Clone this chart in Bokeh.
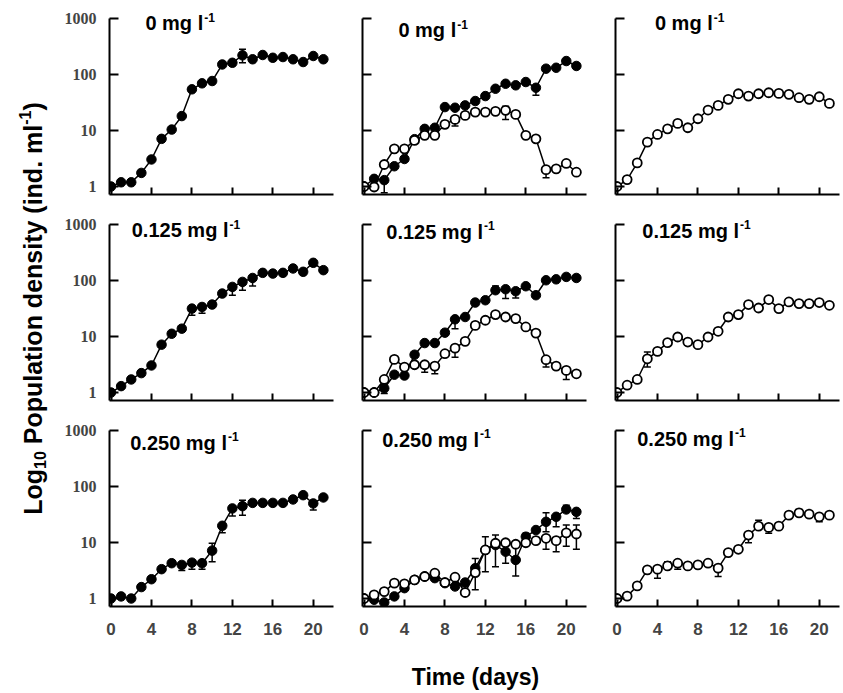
import math
from bokeh.plotting import figure
from bokeh.layouts import row, column
from bokeh.models import (ColumnDataSource, Whisker, TeeHead, FixedTicker,
                          NumeralTickFormatter, CustomJSTickFormatter, Range1d)
from bokeh.core.properties import value
from bokeh.embed import file_html
from bokeh.resources import INLINE

# ---------------- data ----------------
days = list(range(22))
concentrations = ["0", "0.125", "0.250"]
x_ticks = [0, 4, 8, 12, 16, 20]
y_ticks = [1, 10, 100, 1000]

# column 1: filled circles only
a_0 = [1.0, 1.19, 1.19, 1.75, 3.04, 7.1, 10.4, 18.1, 54.4, 69.6, 76.5, 151, 162, 220, 187, 223, 199, 205, 187, 167, 214, 187]
a_125 = [1.0, 1.30, 1.71, 2.22, 3.04, 7.15, 11.2, 13.8, 31.5, 33.7, 37.2, 58.5, 76.9, 94.4, 111, 137, 133, 137, 164, 143, 207, 153]
a_250 = [1.0, 1.09, 1.0, 1.6, 2.21, 3.34, 4.27, 3.98, 4.37, 4.27, 7.15, 19.9, 40.6, 44.6, 51, 51, 51, 51, 58.7, 70, 49.8, 63.7]

# column 2: filled and open circles
bf_0 = [1.0, 1.37, 1.3, 2.3, 3.1, 7.0, 10.7, 11.2, 26.2, 25.5, 28.1, 33.6, 41.2, 55.7, 68.4, 64.1, 73.4, 58, 127, 132, 174, 142]
bo_0 = [1.0, 0.98, 2.47, 4.7, 4.7, 6.65, 8.2, 8.2, 12.9, 15.8, 18.6, 21.3, 21.3, 22, 22.9, 19.4, 8.2, 7.1, 2.0, 2.07, 2.58, 1.8]
bf_125 = [1.0, 1.0, 1.19, 2.08, 2.01, 4.73, 7.64, 7.64, 11.7, 20.3, 22.3, 40.4, 44.4, 67, 69.8, 64.3, 79, 54.6, 101, 105, 116, 111]
bo_125 = [1.0, 1.0, 1.71, 3.9, 2.84, 3.13, 3.13, 2.96, 4.93, 6.2, 8.2, 15.8, 19.5, 24.6, 22.3, 20.9, 14.8, 11.5, 3.85, 2.96, 2.48, 2.16]
bf_250 = [1.0, 0.95, 0.85, 1.09, 1.53, 2.15, 2.47, 2.31, 1.88, 1.64, 1.93, 3.48, 7.36, 9.0, 6.86, 4.88, 12.7, 16.7, 23.4, 28.8, 38.9, 35.3]
bo_250 = [1.0, 1.16, 1.33, 1.88, 1.83, 2.15, 2.47, 2.83, 1.93, 2.4, 1.28, 2.9, 7.36, 9.7, 9.9, 9.3, 9.9, 10.8, 11.9, 10.8, 14.9, 14.2]

# column 3: open circles only
c_0 = [1.0, 1.33, 2.64, 6.2, 8.5, 10.7, 13.4, 11.2, 16.2, 23.2, 28.1, 36, 45.3, 41.2, 45.3, 47.2, 46, 44.2, 38.5, 36, 40.1, 30.5]
c_125 = [1.0, 1.35, 1.71, 4.0, 5.42, 7.76, 9.8, 7.96, 7.15, 9.8, 12.4, 22.3, 24.6, 37.2, 32.3, 45.7, 31.5, 41.4, 38.7, 38.7, 40.4, 36.1]
c_250 = [1.0, 1.1, 1.68, 3.24, 3.34, 3.82, 4.27, 3.82, 3.98, 4.27, 3.48, 6.6, 7.57, 13.6, 19.6, 18.6, 19.6, 30.8, 33.9, 32.1, 28.8, 30.8]

# error bars: (day, lower, upper)
a_0_err = [(13, 162, 282)]
a_125_err = [(8, 24, 31.5), (9, 26, 33.7), (12, 54.5, 76.9), (13, 67, 94.4), (14, 80, 111)]
a_250_err = [(7, 3.15, 3.98), (8, 3.34, 4.37), (9, 3.34, 4.27), (10, 4.55, 9.7), (11, 14.9, 19.9),
             (12, 29.6, 40.6), (13, 30.8, 57), (20, 38, 49.8)]
bf_0_err = [(2, 0.77, 1.3), (17, 42.8, 58)]
bo_0_err = [(9, 12, 15.8), (14, 15.8, 27.2), (18, 1.43, 2.0)]
bf_125_err = [(2, 0.96, 1.19), (9, 13.8, 20.3), (13, 67, 80), (14, 47.5, 69.8), (15, 48.7, 64.3)]
bo_125_err = [(6, 2.31, 3.13), (7, 2.16, 2.96), (9, 4.28, 6.2), (18, 2.84, 3.85), (20, 1.71, 2.48)]
bf_250_err = [(11, 3.48, 5.2), (14, 4.27, 6.86), (15, 2.53, 10.3), (18, 15.6, 33.9), (19, 19.1, 28.8),
              (20, 38.9, 46.5), (21, 26.8, 35.3)]
bo_250_err = [(11, 1.43, 2.9), (12, 3.0, 12.7), (13, 3.7, 13.6), (16, 9.9, 14.6), (18, 7.57, 11.9),
              (19, 6.86, 10.8), (20, 8.6, 20.5), (21, 7.57, 20.5)]
c_0_err = []
c_125_err = [(3, 2.84, 5.27)]
c_250_err = [(4, 2.31, 3.34), (5, 3.82, 4.55), (6, 3.34, 4.27), (10, 2.47, 3.48), (13, 9.9, 13.6),
             (14, 19.6, 25), (15, 14.6, 18.6), (18, 33.9, 39), (20, 23.4, 28.8)]

panels = [
    [[(a_0, a_0_err, True)], [(bf_0, bf_0_err, True), (bo_0, bo_0_err, False)], [(c_0, c_0_err, False)]],
    [[(a_125, a_125_err, True)], [(bf_125, bf_125_err, True), (bo_125, bo_125_err, False)], [(c_125, c_125_err, False)]],
    [[(a_250, a_250_err, True)], [(bf_250, bf_250_err, True), (bo_250, bo_250_err, False)], [(c_250, c_250_err, False)]],
]

# ---------------- layout / style ----------------
SANS = "Liberation Sans"
SERIF = "Liberation Serif"
PX_DEC = 56.0          # pixels per decade
EXT = 12               # frame extension above the 1000 tick (room for the panel titles)
Y_LO, Y_AX_TOP = 0.72, 1000
Y_HI = 10 ** (3 + EXT / PX_DEC)
FH = int(round(math.log10(Y_HI / Y_LO) * PX_DEC))
FW = [224, 224, 224]
XR = [(-0.15, 22.0), (-0.15, 22.0), (-0.15, 22.0)]
BL = [57, 15, 15]
BR = [14, 14, 4]
BT = [6, 10, 10]
BB = [8, 8, 36]
TITLE_X = [[3.4, 3.4, 3.75], [2.05, 2.2, 2.5], [1.9, 1.8, 2.0]]
TITLE_Y = [[815, 618, 815], [791, 741, 772], [603, 690, 719]]

AB = {'0': 556, '1': 556, '2': 556, '5': 556, '.': 278, ' ': 278, 'm': 889, 'g': 611, 'l': 278,
      'L': 611, 'o': 611, 'P': 667, 'p': 611, 'u': 611, 'a': 556, 't': 333, 'i': 278, 'n': 611,
      'd': 611, 'e': 556, 's': 556, 'y': 556, '(': 333, ')': 333, '-': 333}


def tw(s, size):
    return sum(AB.get(ch, 556) for ch in s) / 1000.0 * size


def make_panel(r, c):
    p = figure(width=BL[c] + FW[c] + BR[c], height=BT[r] + FH + BB[r],
               x_range=Range1d(*XR[c]), y_range=Range1d(Y_LO, Y_HI),
               y_axis_type="log", output_backend="svg", toolbar_location=None,
               min_border_left=BL[c], min_border_right=BR[c],
               min_border_top=BT[r], min_border_bottom=BB[r])
    p.outline_line_color = None
    p.background_fill_color = "white"
    p.border_fill_color = "white"
    p.xgrid.visible = False
    p.ygrid.visible = False
    for ax in (p.xaxis[0], p.yaxis[0]):
        ax.axis_line_width = 2
        ax.axis_line_color = "black"
        ax.major_tick_line_width = 2
        ax.major_tick_line_color = "black"
        ax.major_tick_out = 0
        ax.minor_tick_line_color = None
    p.yaxis.bounds = (Y_LO, Y_AX_TOP)
    p.xaxis.major_tick_in = 7
    p.yaxis.major_tick_in = 9
    p.xaxis.ticker = FixedTicker(ticks=x_ticks)
    p.yaxis.ticker = FixedTicker(ticks=y_ticks)
    if c == 0:
        p.yaxis.formatter = NumeralTickFormatter(format="0")
        p.yaxis.major_label_text_font = SERIF
        p.yaxis.major_label_text_font_style = "bold"
        p.yaxis.major_label_text_font_size = "16px"
        p.yaxis.major_label_standoff = 13
    else:
        p.yaxis.formatter = CustomJSTickFormatter(code="return ''")
        p.yaxis.major_label_text_font_size = "1px"
        p.yaxis.major_label_standoff = 0
    if r == 2:
        p.xaxis.formatter = NumeralTickFormatter(format="0")
        p.xaxis.major_label_text_font = SANS
        p.xaxis.major_label_text_font_style = "bold"
        p.xaxis.major_label_text_font_size = "17px"
        p.xaxis.major_label_standoff = 16
    else:
        p.xaxis.formatter = CustomJSTickFormatter(code="return ''")
        p.xaxis.major_label_text_font_size = "1px"
        p.xaxis.major_label_standoff = 0

    for vals, errs, filled in panels[r][c]:
        if errs:
            src = ColumnDataSource(dict(x=[e[0] for e in errs], lo=[e[1] for e in errs], hi=[e[2] for e in errs]))
            w = Whisker(base="x", lower="lo", upper="hi", source=src, line_color="black", line_width=1.5,
                        upper_head=TeeHead(size=7, line_width=1.5, line_color="black"),
                        lower_head=TeeHead(size=7, line_width=1.5, line_color="black"))
            p.add_layout(w)
        p.line(days, vals, line_color="black", line_width=1.5)
        if filled:
            p.scatter(days, vals, marker="circle", size=9.5, fill_color="black", line_color="black", line_width=1)
        else:
            p.scatter(days, vals, marker="circle", size=9, fill_color="white", line_color="black", line_width=1.8)

    t = concentrations[r] + " mg l"
    tx, ty = TITLE_X[r][c], TITLE_Y[r][c]
    p.text(x=[tx], y=[ty], text=[t], text_font=value(SANS), text_font_style="bold",
           text_font_size="20px", text_baseline="middle", text_align="left", text_color="black")
    p.text(x=[tx], y=[ty], text=["-1"], x_offset=tw(t, 20) + 1, y_offset=-6, text_font=value(SANS),
           text_font_style="bold", text_font_size="12px", text_baseline="middle",
           text_align="left", text_color="black")
    return p


grid_rows = []
for r in range(3):
    grid_rows.append(row(*[make_panel(r, c) for c in range(3)], spacing=0))
grid = column(*grid_rows, spacing=0)
grid_h = sum(BT[r] + FH + BB[r] for r in range(3))
grid_w = sum(BL[c] + FW[c] + BR[c] for c in range(3))

# y axis title (rotated, with subscript and superscript)
YW = 52
ylab = figure(width=YW, height=grid_h, x_range=Range1d(0, YW), y_range=Range1d(0, grid_h),
              x_axis_type=None, y_axis_type=None, output_backend="svg", toolbar_location=None,
              min_border=0)
ylab.outline_line_color = None
ylab.xgrid.visible = False
ylab.ygrid.visible = False
F, S = 25, 16
# (text, size, shift across the baseline, gap after)
pieces = [("Log", F, 0, 0), ("10", S, 7, tw(" ", F)), ("Population density (ind. ml", F, 0, 0),
          ("-1", S, -8, 0), (")", F, 0, 0)]
total = sum(tw(s, sz) + g for s, sz, _, g in pieces)
center_y = grid_h - 308
mid_x = 32
yy = center_y - total / 2
for s, sz, dx, g in pieces:
    ylab.text(x=[mid_x + dx], y=[yy], text=[s], angle=math.pi / 2, text_font=value(SANS),
              text_font_style="bold", text_font_size=f"{sz}px", text_baseline="middle",
              text_align="left", text_color="black")
    yy += tw(s, sz) + g

# x axis title
XH = 693 - grid_h
xlab = figure(width=YW + grid_w, height=XH, x_range=Range1d(0, YW + grid_w), y_range=Range1d(0, XH),
              x_axis_type=None, y_axis_type=None, output_backend="svg", toolbar_location=None,
              min_border=0)
xlab.outline_line_color = None
xlab.xgrid.visible = False
xlab.ygrid.visible = False
xlab.text(x=[475], y=[XH - (676 - grid_h)], text=["Time (days)"], text_font=value(SANS),
          text_font_style="bold", text_font_size="23px", text_baseline="middle", text_align="center",
          text_color="black")

page = column(row(ylab, grid, spacing=0), xlab, spacing=0)

open("out.html", "w").write(file_html(page, INLINE))
